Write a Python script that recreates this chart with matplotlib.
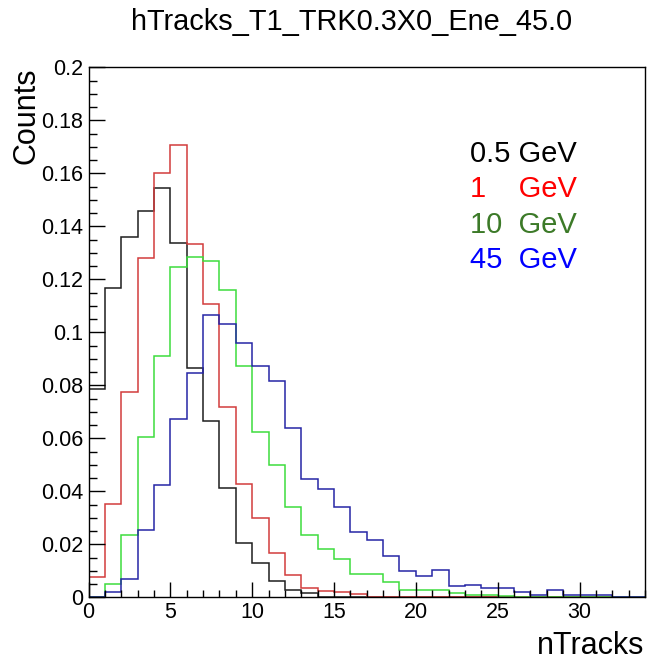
import numpy as np
import matplotlib
matplotlib.use('Agg')
import matplotlib.pyplot as plt
from matplotlib.ticker import MultipleLocator, FuncFormatter

plt.rcParams['font.family'] = ['Liberation Sans', 'DejaVu Sans']

# nTracks bins: width 1, from 0 to 34
edges = np.arange(0, 35)

h_05 = [0.0785, 0.1166, 0.1360, 0.1458, 0.1546, 0.1338, 0.0867, 0.0665, 0.0414, 0.0206,
        0.0131, 0.0062, 0.0030, 0.0018, 0, 0, 0, 0, 0, 0,
        0, 0, 0, 0, 0, 0, 0, 0, 0, 0,
        0, 0, 0, 0]
h_1 = [0.0079, 0.0352, 0.0777, 0.1282, 0.1601, 0.1708, 0.1333, 0.1106, 0.0720, 0.0428,
       0.0301, 0.0169, 0.0085, 0.0035, 0.0025, 0.0020, 0.0013, 0, 0, 0,
       0, 0, 0, 0, 0, 0, 0.0003, 0.0003, 0, 0.0003,
       0, 0, 0, 0]
h_10 = [0, 0.0051, 0.0236, 0.0607, 0.0911, 0.1248, 0.1285, 0.1271, 0.1160, 0.0875,
        0.0626, 0.0500, 0.0340, 0.0236, 0.0182, 0.0144, 0.0089, 0.0089, 0.0060, 0.0028,
        0.0028, 0.0028, 0.0016, 0.0008, 0.0008, 0.0005, 0.0003, 0.0003, 0.0003, 0,
        0, 0, 0, 0]
h_45 = [0, 0.0019, 0.0069, 0.0255, 0.0425, 0.0672, 0.0846, 0.1066, 0.1031, 0.0959,
        0.0874, 0.0818, 0.0638, 0.0446, 0.0410, 0.0343, 0.0248, 0.0217, 0.0157, 0.0100,
        0.0081, 0.0104, 0.0043, 0.0047, 0.0035, 0.0035, 0.0022, 0.0009, 0.0028, 0.0008,
        0.0008, 0.0008, 0, 0]

hists = [h_05, h_1, h_10, h_45]
line_colors = ['#1e1e1e', '#d23c3c', '#3ddc3d', '#2626a6']
labels = ['0.5 GeV', '1    GeV', '10  GeV', '45  GeV']
label_colors = ['#000000', '#ff0000', '#3c7a28', '#0000ff']

fig = plt.figure(figsize=(6.5, 6.61), dpi=100)
ax = fig.add_axes([0.1362, 0.0961, 0.8561, 0.8018])

for h, c in zip(hists, line_colors):
    ax.stairs(h, edges, baseline=0, color=c, lw=1.1)

ax.set_xlim(0, 34)
ax.set_ylim(0, 0.2)

ax.xaxis.set_major_locator(MultipleLocator(5))
ax.xaxis.set_minor_locator(MultipleLocator(1))
ax.yaxis.set_major_locator(MultipleLocator(0.02))
ax.yaxis.set_minor_locator(MultipleLocator(0.005))
fmt = FuncFormatter(lambda v, p: '%g' % round(v, 4))
ax.xaxis.set_major_formatter(fmt)
ax.yaxis.set_major_formatter(fmt)

ax.tick_params(which='both', direction='in', top=False, right=False,
               labelsize=15.5, width=1.0, color='black')
ax.tick_params(axis='x', which='major', length=10.8, pad=3)
ax.tick_params(axis='x', which='minor', length=5)
ax.tick_params(axis='y', which='major', length=11.5, pad=4)
ax.tick_params(axis='y', which='minor', length=5.8)
for s in ax.spines.values():
    s.set_linewidth(1.0)

# legend as plain coloured text, one row per energy
for i, (lab, c) in enumerate(zip(labels, label_colors)):
    fig.text(470 / 650, 1 - (162 + 35.3 * i) / 661, lab, color=c,
             fontsize=21, ha='left', va='baseline')

fig.text(352 / 650, 1 - 30 / 661, 'hTracks_T1_TRK0.3X0_Ene_45.0',
         fontsize=20.8, ha='center', va='baseline')
fig.text(26.5 / 650, 1 - 68 / 661, 'Counts', rotation=90,
         fontsize=22, ha='center', va='top')
fig.text(644 / 650, 1 - 654 / 661, 'nTracks',
         fontsize=22, ha='right', va='baseline')

fig.savefig('out.png', dpi=100)
